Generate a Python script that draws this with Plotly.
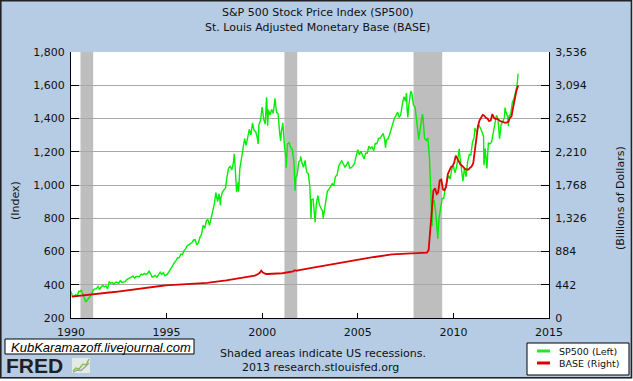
import pandas as pd
import plotly.graph_objects as go

# ---------------- DATA ----------------
# S&P 500 month-end closes, Jan 1990 .. Apr 2013
sp500_monthly = [
    329.1, 331.9, 339.9, 330.8, 361.2, 358.0, 356.2, 322.6, 306.1, 304.0, 322.2, 330.2,
    343.9, 367.1, 375.2, 375.3, 389.8, 371.2, 387.8, 395.4, 387.9, 392.5, 375.2, 417.1,
    408.8, 412.7, 403.7, 415.0, 415.4, 408.1, 424.2, 414.0, 417.8, 418.7, 431.4, 435.7,
    438.8, 443.4, 451.7, 440.2, 450.2, 450.5, 448.1, 463.6, 458.9, 467.8, 461.8, 466.5,
    481.6, 467.1, 445.8, 450.9, 456.5, 444.3, 458.3, 475.5, 462.7, 472.4, 453.7, 459.3,
    470.4, 487.4, 500.7, 514.7, 533.4, 544.8, 562.1, 561.9, 584.4, 581.5, 605.4, 615.9,
    636.0, 640.4, 645.5, 654.2, 669.1, 670.6, 640.0, 652.0, 687.3, 705.3, 757.0, 740.7,
    786.2, 790.8, 757.1, 801.3, 848.3, 885.1, 954.3, 899.5, 947.3, 914.6, 955.4, 970.4,
    980.3, 1049.3, 1101.8, 1111.8, 1090.8, 1133.8, 1120.7, 957.3, 1017.0, 1098.7, 1163.6, 1229.2,
    1279.6, 1238.3, 1286.4, 1335.2, 1301.8, 1372.7, 1328.7, 1320.4, 1282.7, 1362.9, 1388.9, 1469.3,
    1394.5, 1366.4, 1498.6, 1452.4, 1420.6, 1454.6, 1430.8, 1517.7, 1436.5, 1429.4, 1315.0, 1320.3,
    1366.0, 1239.9, 1160.3, 1249.5, 1255.8, 1224.4, 1211.2, 1133.6, 1040.9, 1059.8, 1139.5, 1148.1,
    1130.2, 1106.7, 1147.4, 1076.9, 1067.1, 989.8, 911.6, 916.1, 815.3, 885.8, 936.3, 879.8,
    855.7, 841.2, 848.2, 916.9, 963.6, 974.5, 990.3, 1008.0, 996.0, 1050.7, 1058.2, 1111.9,
    1131.1, 1144.9, 1126.2, 1107.3, 1120.7, 1140.8, 1101.7, 1104.2, 1114.6, 1130.2, 1173.8, 1211.9,
    1181.3, 1203.6, 1180.6, 1156.9, 1191.5, 1191.3, 1234.2, 1220.3, 1228.8, 1207.0, 1249.5, 1248.3,
    1280.1, 1280.7, 1294.8, 1310.6, 1270.1, 1270.2, 1276.7, 1303.8, 1335.9, 1377.9, 1400.6, 1418.3,
    1438.2, 1406.8, 1420.9, 1482.4, 1530.6, 1503.4, 1455.3, 1474.0, 1526.8, 1549.4, 1481.1, 1468.4,
    1378.6, 1330.6, 1322.7, 1385.6, 1400.4, 1280.0, 1267.4, 1282.8, 1166.4, 968.8, 896.2, 903.3,
    825.9, 735.1, 797.9, 872.8, 919.1, 919.3, 987.5, 1020.6, 1057.1, 1036.2, 1095.6, 1115.1,
    1073.9, 1104.5, 1169.4, 1186.7, 1089.4, 1030.7, 1101.6, 1049.3, 1141.2, 1183.3, 1180.6, 1257.6,
    1286.1, 1327.2, 1325.8, 1363.6, 1345.2, 1320.6, 1292.3, 1218.9, 1131.4, 1253.3, 1247.0, 1257.6,
    1312.4, 1365.7, 1408.5, 1397.9, 1310.3, 1362.2, 1379.3, 1406.6, 1440.7, 1412.2, 1416.2, 1426.2,
    1498.1, 1514.7, 1569.2, 1597.6,
]
# intra-month highs / lows visible in the daily line
sp500_extra_dates = [
    "1990-01-02", "1990-07-16", "1990-10-11", "1997-10-27", "1998-07-17", "1998-10-08",
    "1999-10-15", "2000-03-24", "2000-04-14", "2000-09-01", "2000-12-20", "2001-01-30",
    "2001-04-04", "2001-09-21", "2002-01-04", "2002-07-23", "2002-10-09", "2003-03-11",
    "2006-06-13", "2007-07-19", "2007-08-15", "2007-10-09", "2008-03-10", "2008-05-19",
    "2008-11-20", "2009-03-09", "2010-04-23", "2010-07-02", "2011-02-18", "2011-08-08",
    "2011-10-03", "2012-04-02", "2012-06-01", "2012-09-14", "2012-11-15", "2013-05-21",
]
sp500_extra_values = [
    359.7, 369.0, 295.5, 877.0, 1186.8, 959.4,
    1247.4, 1527.5, 1356.6, 1520.8, 1264.7, 1373.7,
    1103.3, 965.8, 1172.5, 797.7, 776.8, 800.7,
    1223.7, 1553.1, 1406.7, 1565.2, 1273.4, 1426.6,
    752.4, 676.5, 1217.3, 1022.6, 1343.0, 1119.5,
    1099.2, 1419.0, 1278.0, 1465.8, 1353.3, 1669.2,
]

# St. Louis Adjusted Monetary Base, billions, monthly Jan 1990 .. Apr 2013
base_monthly = [
    285, 287, 289, 291, 293, 295, 297, 299, 301, 303, 306, 309,
    311, 313, 315, 317, 318, 320, 322, 324, 326, 328, 331, 334,
    337, 340, 343, 346, 349, 352, 355, 358, 361, 364, 367, 371,
    374, 377, 380, 383, 386, 389, 392, 395, 398, 401, 404, 408,
    410, 413, 416, 418, 420, 422, 424, 426, 428, 430, 432, 434,
    435, 436, 437, 438, 439, 440, 441, 442, 443, 444, 445, 447,
    448, 449, 450, 451, 452, 453, 454, 455, 456, 458, 460, 463,
    465, 467, 469, 471, 473, 476, 479, 482, 485, 488, 491, 494,
    497, 500, 503, 506, 509, 512, 515, 518, 521, 524, 527, 531,
    535, 539, 543, 547, 551, 555, 559, 563, 570, 585, 600, 630,
    605, 590, 585, 585, 585, 585, 586, 587, 588, 589, 590, 592,
    595, 598, 601, 605, 609, 613, 617, 621, 635, 628, 632, 635,
    638, 642, 646, 650, 654, 658, 662, 666, 670, 674, 678, 682,
    686, 690, 694, 698, 702, 706, 710, 714, 718, 722, 726, 730,
    734, 738, 742, 746, 750, 754, 758, 762, 766, 770, 774, 778,
    781, 784, 787, 790, 793, 796, 799, 802, 805, 808, 811, 815,
    818, 821, 824, 827, 830, 833, 836, 839, 842, 845, 847, 849,
    850, 851, 852, 853, 854, 855, 856, 857, 858, 859, 860, 861,
    862, 863, 864, 865, 866, 867, 868, 870, 905, 1134, 1434, 1693,
    1726, 1647, 1666, 1829, 1840, 1708, 1698, 1744, 1912, 1966, 2006, 2019,
    2061, 2158, 2117, 2063, 2040, 2025, 1998, 1979, 1974, 1974, 1998, 2016,
    2058, 2226, 2424, 2549, 2627, 2664, 2700, 2690, 2660, 2650, 2617, 2627,
    2711, 2661, 2645, 2650, 2627, 2617, 2612, 2600, 2594, 2601, 2609, 2660,
    2682, 2800, 2900, 3011,
]
base_last_date = "2013-05-22"
base_last_value = 3090

recession_starts = ["1990-07-01", "2001-03-01", "2007-12-01"]
recession_ends = ["1991-03-01", "2001-11-01", "2009-06-01"]

left_ticks = [200, 400, 600, 800, 1000, 1200, 1400, 1600, 1800]
right_ticks = [0, 442, 884, 1326, 1768, 2210, 2652, 3094, 3536]
year_ticks = ["1990-01-01", "1995-01-01", "2000-01-01", "2005-01-01", "2010-01-01", "2015-01-01"]
year_labels = ["1990", "1995", "2000", "2005", "2010", "2015"]

# ---------------- BUILD SERIES ----------------
sp_dates = list(pd.date_range("1990-01-31", periods=len(sp500_monthly), freq="ME"))
sp = pd.Series(sp500_monthly, index=sp_dates)
sp_extra = pd.Series(sp500_extra_values, index=pd.to_datetime(sp500_extra_dates))
sp = pd.concat([sp, sp_extra]).sort_index()

base_dates = list(pd.date_range("1990-01-01", periods=len(base_monthly), freq="MS") + pd.Timedelta(days=14))
base = pd.Series(base_monthly, index=base_dates)
base = pd.concat([base, pd.Series([base_last_value], index=pd.to_datetime([base_last_date]))]).sort_index()

# ---------------- LAYOUT GEOMETRY (pixels) ----------------
W, H = 633, 381
L, R, T, B = 71, 549, 52, 318
BG = "#B5CCE4"
FONT = "DejaVu Sans"


def px(x):
    return (x - L) / (R - L)


def py(y):
    return (B - y) / (B - T)


fig = go.Figure()
fig.add_trace(go.Scatter(x=sp.index, y=sp.values, mode="lines", name="SP500 (Left)",
                         line=dict(color="#00EE00", width=1.4), yaxis="y", showlegend=False))
fig.add_trace(go.Scatter(x=base.index, y=base.values, mode="lines", name="BASE (Right)",
                         line=dict(color="#DD0000", width=1.8), yaxis="y2", showlegend=False))

shapes = []
for s, e in zip(recession_starts, recession_ends):
    shapes.append(dict(type="rect", xref="x", yref="paper", x0=s, x1=e, y0=0, y1=1,
                       fillcolor="#BEBEBE", line=dict(width=0), layer="between"))

# outer frame and white margins
shapes.append(dict(type="rect", xref="paper", yref="paper", x0=px(0), x1=px(W), y0=py(H), y1=py(378.5),
                   fillcolor="white", line=dict(width=0), layer="above"))
shapes.append(dict(type="rect", xref="paper", yref="paper", x0=px(632), x1=px(W), y0=py(H), y1=py(0),
                   fillcolor="white", line=dict(width=0), layer="above"))
shapes.append(dict(type="rect", xref="paper", yref="paper", x0=px(0.8), x1=px(631.5), y0=py(377.8), y1=py(0.8),
                   line=dict(color="#222222", width=1.6), layer="above"))

# watermark box
shapes.append(dict(type="rect", xref="paper", yref="paper", x0=px(5), x1=px(194), y0=py(354), y1=py(339),
                   fillcolor="white", line=dict(color="black", width=1), layer="above"))
# FRED icon
shapes.append(dict(type="rect", xref="paper", yref="paper", x0=px(72), x1=px(90), y0=py(373), y1=py(358),
                   fillcolor="#E4EAE4", line=dict(width=0), layer="above"))
icon_g = [(73, 371), (76, 368), (79, 369), (83, 364), (86, 365), (89, 359)]
icon_k = [(73, 372.5), (77, 370), (81, 370.5), (85, 367), (89, 363)]
for pts, col in ((icon_k, "#9AA39A"), (icon_g, "#7DBE4A")):
    path = "M " + " L ".join(f"{px(a):.5f},{py(b):.5f}" for a, b in pts)
    shapes.append(dict(type="path", xref="paper", yref="paper", path=path,
                       line=dict(color=col, width=1.3), layer="above"))

# legend box
shapes.append(dict(type="rect", xref="paper", yref="paper", x0=px(527), x1=px(629), y0=py(375), y1=py(343),
                   fillcolor="white", line=dict(color="black", width=1), layer="above"))
shapes.append(dict(type="line", xref="paper", yref="paper", x0=px(537), x1=px(550), y0=py(351), y1=py(351),
                   line=dict(color="#33DD33", width=3), layer="above"))
shapes.append(dict(type="line", xref="paper", yref="paper", x0=px(537), x1=px(550), y0=py(363), y1=py(363),
                   line=dict(color="#DD0000", width=3), layer="above"))


def ann(text, x, y, size=11, xanchor="center", yanchor="middle", angle=0, family=FONT, color="#111111"):
    return dict(text=text, xref="paper", yref="paper", x=px(x), y=py(y), showarrow=False,
                xanchor=xanchor, yanchor=yanchor, textangle=angle,
                font=dict(family=family, size=size, color=color))


annotations = [
    ann("S&amp;P 500 Stock Price Index (SP500)", 317, 12.5),
    ann("St. Louis Adjusted Monetary Base (BASE)", 317, 27),
    ann("(Index)", 15, 201, angle=-90),
    ann("(Billions of Dollars)", 620, 198, angle=-90),
    ann("Shaded areas indicate US recessions.", 323, 353),
    ann("2013 research.stlouisfed.org", 320, 367),
    ann("<i>KubKaramazoff.livejournal.com</i>", 9, 347, size=13, xanchor="left",
        family="Liberation Sans", color="black"),
    ann("<b>FRED</b>", 4, 365, size=21, xanchor="left", family="Liberation Sans", color="#231F20"),
    ann("SP500 (Left)", 557, 351, size=9.5, xanchor="left"),
    ann("BASE (Right)", 557, 363, size=9.5, xanchor="left"),
]

tickfont = dict(family=FONT, size=11, color="#111111")

fig.update_layout(
    width=W, height=H, autosize=False,
    margin=dict(l=L, r=W - R, t=T, b=H - B, pad=0),
    paper_bgcolor=BG, plot_bgcolor="white",
    showlegend=False,
    shapes=shapes, annotations=annotations,
    xaxis=dict(type="date", range=["1990-01-01", "2015-01-01"],
               tickvals=year_ticks, ticktext=year_labels,
               ticks="inside", ticklen=5, tickcolor="black", tickwidth=1,
               showline=True, linecolor="black", linewidth=1,
               showgrid=False, zeroline=False, tickfont=tickfont, fixedrange=True,
               ticklabelstandoff=4),
    yaxis=dict(range=[200, 1800], tickvals=left_ticks, tickformat=",",
               ticks="inside", ticklen=8, tickcolor="black", tickwidth=1,
               showline=True, linecolor="black", linewidth=1,
               showgrid=True, gridcolor="#A8A8A8", gridwidth=1,
               zeroline=False, tickfont=tickfont, ticklabelstandoff=3),
    yaxis2=dict(range=[0, 3536], tickvals=right_ticks, tickformat=",",
                overlaying="y", side="right",
                ticks="inside", ticklen=8, tickcolor="black", tickwidth=1,
                showline=True, linecolor="black", linewidth=1,
                showgrid=False, zeroline=False, tickfont=tickfont, ticklabelstandoff=3),
)

fig.write_html("out.html", config={"displayModeBar": False},
               post_script="document.body.style.margin='0px';document.body.style.overflow='hidden';")
